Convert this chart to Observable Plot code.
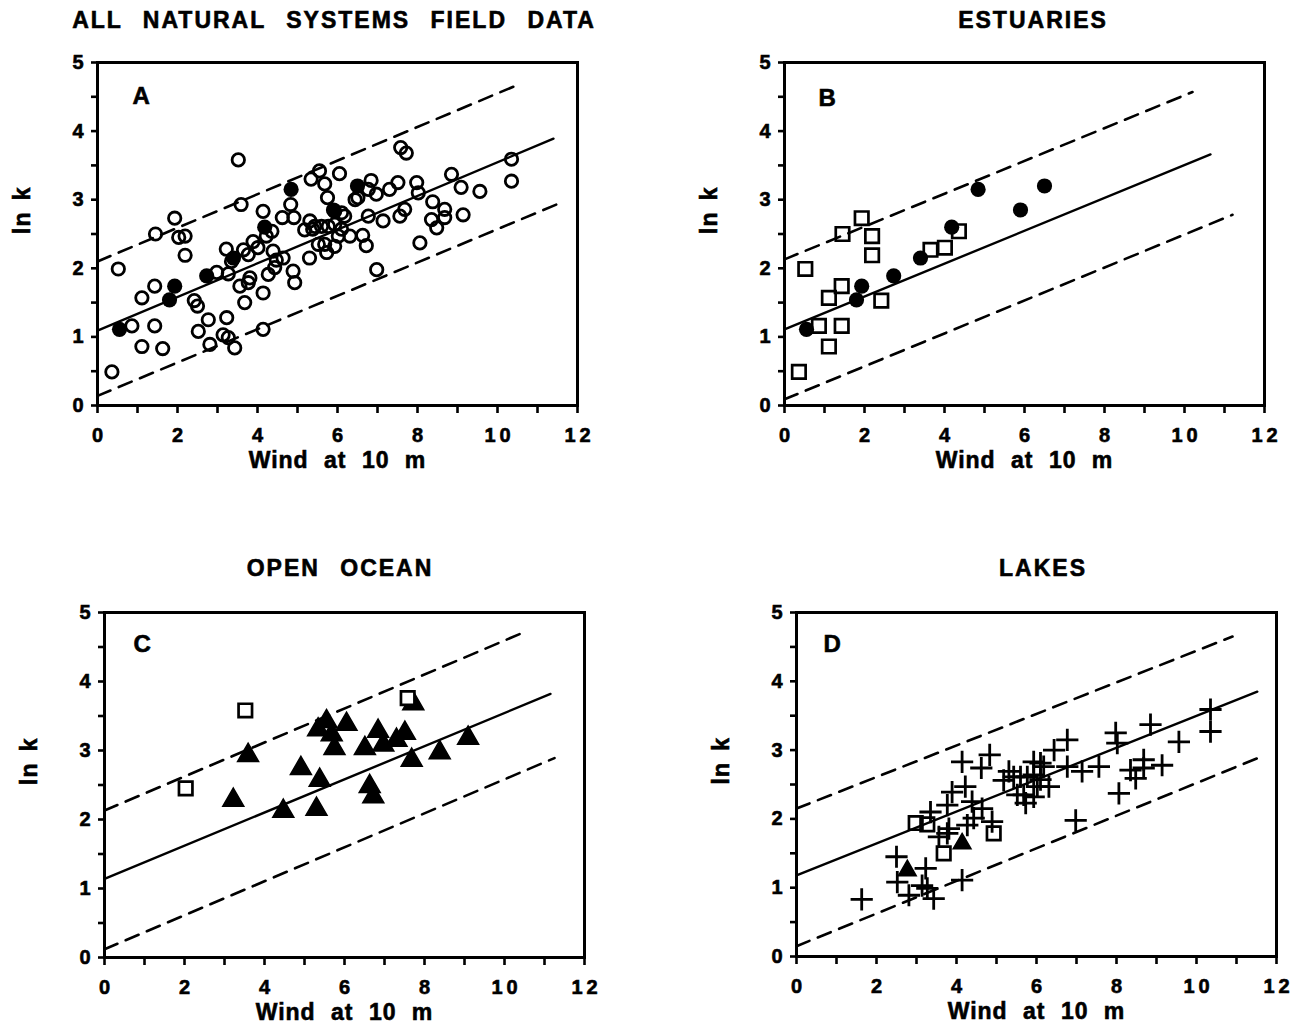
<!DOCTYPE html>
<html>
<head>
<meta charset="utf-8">
<script src="https://cdn.jsdelivr.net/npm/d3@7"></script>
<script src="https://cdn.jsdelivr.net/npm/@observablehq/plot@0.6"></script>
<style>
  body { margin: 0; background: #fff; }
  #root { position: relative; width: 1299px; height: 1034px; overflow: hidden; background: #fff;
          font-family: "Liberation Sans", Arial, sans-serif; }
  .title { position: absolute; font-weight: bold; font-size: 23px; letter-spacing: 2px; word-spacing: 12px;
           transform: translate(-50%, -50%); white-space: nowrap; color: #000;
           -webkit-text-stroke: 0.6px #000; }
  .panel { position: absolute; }
  .panel text { stroke: #000; stroke-width: 0.6px; }
</style>
</head>
<body>
<div id="root"></div>
<script>
// ---------------- DATA ----------------
const titles = ["ALL NATURAL SYSTEMS FIELD DATA", "ESTUARIES", "OPEN OCEAN", "LAKES"];
const panelLetters = ["A", "B", "C", "D"];
const xLabel = "Wind at 10 m";
const yLabel = "ln k";

const xTickValues = [0, 1, 2, 3, 4, 5, 6, 7, 8, 9, 10, 11, 12];
const xTickLabels = ["0", "", "2", "", "4", "", "6", "", "8", "", "10", "", "12"];
const yTickValues = [0, 0.5, 1, 1.5, 2, 2.5, 3, 3.5, 4, 4.5, 5];
const yTickLabels = ["0", "", "1", "", "2", "", "3", "", "4", "", "5"];

// Estuaries (panel B): filled circles and open squares  [wind, ln k]
const estuaryCircles = [
  [0.55, 1.11], [1.80, 1.54], [1.93, 1.74], [2.73, 1.89], [3.40, 2.15],
  [4.18, 2.60], [4.84, 3.15], [5.90, 2.85], [6.50, 3.20]
];
const estuarySquares = [
  [0.36, 0.49], [0.52, 1.99], [0.86, 1.16], [1.11, 0.86], [1.11, 1.57],
  [1.43, 1.16], [1.43, 1.74], [1.45, 2.50], [1.93, 2.73], [2.19, 2.47],
  [2.19, 2.19], [2.42, 1.53], [3.65, 2.27], [4.01, 2.30], [4.36, 2.54]
];

// Open ocean (panel C): filled triangles and open squares
const oceanTriangles = [
  [3.22, 2.28], [3.59, 2.93], [4.47, 2.12], [4.91, 2.74], [5.30, 2.15],
  [5.38, 2.57], [5.34, 3.30], [5.55, 3.42], [5.68, 3.23], [5.75, 3.03],
  [6.05, 3.38], [6.51, 3.03], [6.63, 2.48], [6.72, 2.33], [6.84, 3.28],
  [6.97, 3.08], [7.30, 3.15], [7.51, 3.25], [7.68, 2.86], [7.72, 3.68],
  [8.38, 2.97], [9.09, 3.18]
];
const oceanSquares = [[2.03, 2.45], [3.52, 3.58], [7.58, 3.76]];

// Lakes (panel D): plus signs, open squares, filled triangles
const lakePluses = [
  [1.63, 0.83], [2.50, 1.45], [2.52, 1.08], [2.81, 0.89], [3.14, 1.03],
  [3.23, 1.28], [3.27, 0.99], [3.43, 0.84], [4.14, 1.11], [3.35, 2.10],
  [3.56, 1.74], [3.77, 1.79], [3.81, 1.86], [3.77, 2.20], [3.89, 2.39],
  [4.14, 2.83], [4.22, 2.47], [4.39, 2.25], [4.62, 2.74], [4.64, 2.15],
  [4.83, 2.93], [4.27, 1.91], [4.43, 2.01], [4.89, 1.96], [5.18, 2.56],
  [5.31, 2.69], [5.43, 2.61], [5.52, 2.35], [5.60, 2.61], [5.68, 2.35],
  [5.73, 2.23], [5.77, 2.61], [5.93, 2.64], [5.93, 2.83], [5.93, 2.32],
  [6.02, 2.47], [6.10, 2.81], [6.10, 2.57], [6.18, 2.76], [6.31, 2.47],
  [6.44, 3.00], [6.77, 3.15], [6.77, 2.76], [6.98, 1.98], [7.14, 2.69],
  [7.56, 2.76], [7.98, 3.25], [8.02, 3.10], [8.06, 2.37], [8.35, 2.71],
  [8.48, 2.59], [8.68, 2.86], [8.68, 2.74], [8.85, 3.37], [9.14, 2.78],
  [9.56, 3.12], [10.35, 3.59], [10.35, 3.27]
];
const lakeSquares = [[2.98, 1.94], [3.27, 1.92], [3.68, 1.50], [4.93, 1.79]];
const lakeTriangles = [[2.77, 1.25], [4.14, 1.64]];

// Regression line and +/- bands, as [wind, ln k] end points
const fitA = [[0, 1.09], [11.4, 3.89]];
const upperA = [[0, 2.10], [10.45, 4.66]];
const lowerA = [[0, 0.14], [11.6, 2.96]];
const fitB = [[0, 1.11], [10.65, 3.66]];
const upperB = [[0, 2.13], [10.2, 4.57]];
const lowerB = [[0, 0.09], [11.2, 2.78]];
const fitC = [[0, 1.14], [11.15, 3.82]];
const upperC = [[0, 2.13], [10.47, 4.71]];
const lowerC = [[0, 0.12], [11.25, 2.89]];
const fitD = [[0, 1.18], [11.52, 3.85]];
const upperD = [[0, 2.15], [10.9, 4.65]];
const lowerD = [[0, 0.15], [11.6, 2.90]];

// Panel A combines every field data set
const allOpen = [...estuarySquares, ...oceanTriangles, ...oceanSquares, ...lakePluses, ...lakeSquares, ...lakeTriangles];
const allFilled = [...estuaryCircles];

// ---------------- DRAWING ----------------
const root = document.getElementById("root");
const FONT = "'Liberation Sans', Arial, Helvetica, sans-serif";
const X = d => d[0], Y = d => d[1];

function lines(fit, upper, lower) {
  return [
    Plot.line(fit, {x: X, y: Y, stroke: "black", strokeWidth: 2.4}),
    Plot.line(upper, {x: X, y: Y, stroke: "black", strokeWidth: 2.6, strokeDasharray: "14,9"}),
    Plot.line(lower, {x: X, y: Y, stroke: "black", strokeWidth: 2.6, strokeDasharray: "14,9"})
  ];
}

function panel(cfg) {
  const {ox, oy, W, H, left, top, bottom, letter, ldx, ldy, marks} = cfg;
  const right = left + 480;
  const svg = Plot.plot({
    width: W, height: H,
    marginLeft: left - ox, marginTop: top - oy,
    marginRight: ox + W - right, marginBottom: oy + H - bottom,
    x: {domain: [0, 12]},
    y: {domain: [0, 5]},
    style: {fontFamily: FONT, fontWeight: "bold", fontSize: "20px", color: "black", background: "white", overflow: "visible"},
    marks: [
      Plot.axisX({ticks: xTickValues, tickFormat: d => xTickLabels[xTickValues.indexOf(d)],
                  tickSize: 8, tickPadding: 14, strokeWidth: 2.6, fontSize: 20, fontWeight: "bold", label: null}),
      Plot.axisY({ticks: yTickValues, tickFormat: d => yTickLabels[yTickValues.indexOf(d)],
                  tickSize: 6, tickPadding: 8, strokeWidth: 2.6, fontSize: 20, fontWeight: "bold", label: null}),
      ...marks,
      Plot.frame({stroke: "black", strokeWidth: 3}),
      Plot.text([xLabel], {text: d => d, frameAnchor: "bottom", dy: 62, fontSize: 23, fontWeight: "bold", className: "xlab"}),
      Plot.text([yLabel], {text: d => d, frameAnchor: "left", dx: -75, rotate: -90, fontSize: 23, fontWeight: "bold", className: "ylab"}),
      Plot.text([letter], {text: d => d, frameAnchor: "top-left", dx: ldx, dy: ldy, fontSize: 24, fontWeight: "bold"})
    ]
  });
  svg.classList.add("panel");
  svg.style.left = ox + "px";
  svg.style.top = oy + "px";
  const s = d3.select(svg);
  s.selectAll("g[aria-label='x-axis tick label'] text").style("letter-spacing", "4px").attr("dx", "2px");
  s.selectAll(".xlab text").style("letter-spacing", "1px").style("word-spacing", "8px");
  s.selectAll(".ylab text").style("letter-spacing", "1px").style("word-spacing", "4px");
  root.appendChild(svg);
}

function title(text, cx, cy) {
  const d = document.createElement("div");
  d.className = "title";
  d.textContent = text;
  d.style.left = cx + "px";
  d.style.top = cy + "px";
  root.appendChild(d);
}

const openCircle = {x: X, y: Y, r: 6.2, stroke: "black", strokeWidth: 2.8, fill: "none"};
const filledCircle = {x: X, y: Y, r: 7.6, fill: "black"};
const openSquare = {x: X, y: Y, symbol: "square", r: 7.6, stroke: "black", strokeWidth: 2.7, fill: "none"};
const triangle = {x: X, y: Y, symbol: "triangle", r: 7.8, fill: "black", stroke: "black", strokeWidth: 1.5};
const smallTriangle = {...triangle, r: 6.6};
const plus = {x: X, y: Y, symbol: "plus", r: 7.2, stroke: "black", strokeWidth: 2.8};

// Panel A
panel({ox: 0, oy: 40, W: 645, H: 470, left: 97, top: 62, bottom: 405, letter: panelLetters[0], ldx: 35, ldy: 24,
  marks: [
    ...lines(fitA, upperA, lowerA),
    Plot.dot(allOpen, openCircle),
    Plot.dot(allFilled, filledCircle)
  ]});
// Panel B
panel({ox: 650, oy: 40, W: 649, H: 470, left: 784, top: 62, bottom: 405, letter: panelLetters[1], ldx: 34, ldy: 26,
  marks: [
    ...lines(fitB, upperB, lowerB),
    Plot.dot(estuarySquares, openSquare),
    Plot.dot(estuaryCircles, filledCircle)
  ]});
// Panel C
panel({ox: 0, oy: 590, W: 645, H: 444, left: 104, top: 612, bottom: 957, letter: panelLetters[2], ldx: 29, ldy: 22,
  marks: [
    ...lines(fitC, upperC, lowerC),
    Plot.dot(oceanTriangles, triangle),
    Plot.dot(oceanSquares, {...openSquare, fill: "white"})
  ]});
// Panel D
panel({ox: 650, oy: 590, W: 649, H: 444, left: 796, top: 612, bottom: 956, letter: panelLetters[3], ldx: 27, ldy: 22,
  marks: [
    ...lines(fitD, upperD, lowerD),
    Plot.dot(lakePluses, plus),
    Plot.dot(lakeSquares, openSquare),
    Plot.dot(lakeTriangles, smallTriangle)
  ]});

title(titles[0], 334, 20);
title(titles[1], 1033, 20);
title(titles[2], 340, 568);
title(titles[3], 1043, 568);
</script>
</body>
</html>
